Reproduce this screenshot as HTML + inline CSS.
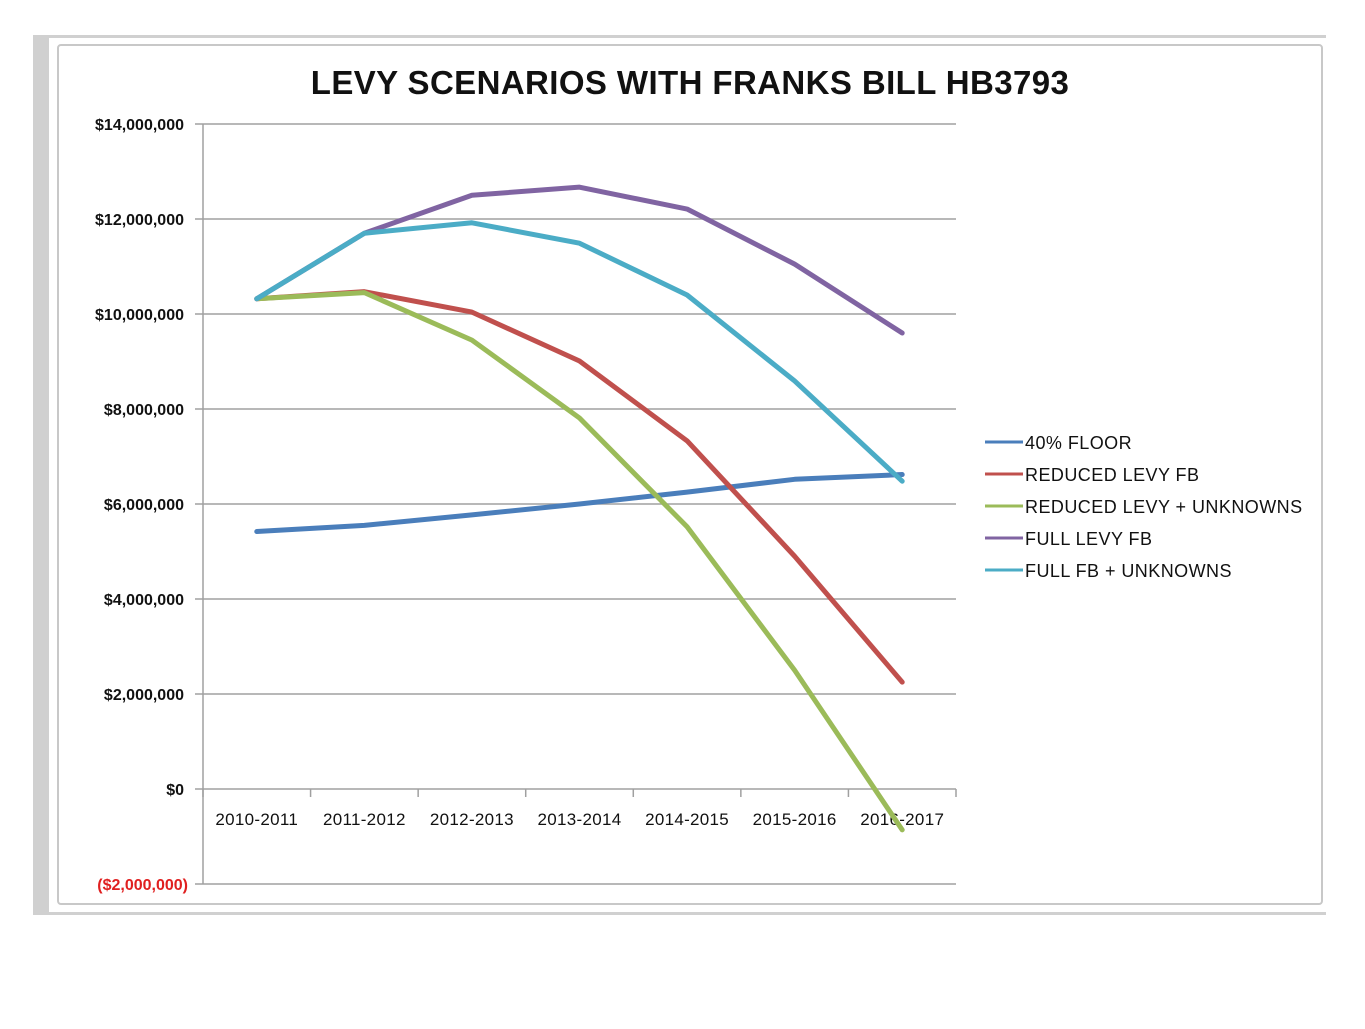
<!DOCTYPE html>
<html><head><meta charset="utf-8"><style>
body{margin:0;width:1365px;height:1024px;background:#fff;overflow:hidden;font-family:"Liberation Sans",Arial,sans-serif}
</style></head><body>
<svg width="1365" height="1024" xmlns="http://www.w3.org/2000/svg">
<rect x="33" y="35" width="16" height="880" fill="#d0d0d0"/>
<rect x="33" y="35" width="1293" height="3" fill="#d0d0d0"/>
<rect x="49" y="912" width="1277" height="3" fill="#d0d0d0"/>
<rect x="58" y="45" width="1264" height="859" rx="3" fill="#fff" stroke="#c8c8c8" stroke-width="2"/>
<text x="690" y="94" text-anchor="middle" font-size="33" font-weight="bold" letter-spacing="0.4" fill="#111">LEVY SCENARIOS WITH FRANKS BILL HB3793</text>
<g id="grid"></g><g id="axes"></g><g id="series"></g><g id="legend"></g>
</svg>
<script>
const categories=["2010-2011","2011-2012","2012-2013","2013-2014","2014-2015","2015-2016","2016-2017"];
const yTicks=[-2,0,2,4,6,8,10,12,14];
const yTickLabels=["($2,000,000)","$0","$2,000,000","$4,000,000","$6,000,000","$8,000,000","$10,000,000","$12,000,000","$14,000,000"];
const seriesNames=["40% FLOOR","REDUCED LEVY FB","REDUCED LEVY + UNKNOWNS","FULL LEVY FB","FULL FB + UNKNOWNS"];
const floor40=[5.42,5.55,5.77,6.0,6.25,6.52,6.62];
const reducedLevy=[10.32,10.47,10.04,9.01,7.33,4.9,2.25];
const reducedUnknowns=[10.32,10.45,9.45,7.81,5.52,2.5,-0.86];
const fullLevy=[10.32,11.7,12.5,12.67,12.21,11.05,9.6];
const fullUnknowns=[10.32,11.7,11.92,11.49,10.4,8.59,6.48];
const seriesData=[floor40,reducedLevy,reducedUnknowns,fullLevy,fullUnknowns];
const colors=["#4a7ebb","#c0504d","#9bbb59","#8064a2","#4bacc6"];
const NS="http://www.w3.org/2000/svg";
const x0=203,x1=956,y0v=789,pxPerM=47.5;
const bw=(x1-x0)/categories.length;
const xs=i=>x0+bw*(i+0.5);
const ys=v=>y0v-v*pxPerM;
function mk(tag,attrs,parent){const e=document.createElementNS(NS,tag);for(const k in attrs)e.setAttribute(k,attrs[k]);document.getElementById(parent).appendChild(e);return e;}
yTicks.forEach((t,i)=>{
  const g=mk("line",{x1:x0-8,x2:x1,y1:ys(t),y2:ys(t),stroke:"#a0a0a0","stroke-width":1.5},"grid");
  
  
  const l=mk("text",{x:t<0?188:184,y:ys(t)+6,"text-anchor":"end","font-size":16,"font-weight":"bold",fill:t<0?"#e02020":"#111"},"axes");
  l.textContent=yTickLabels[i];
  
  
});
const ya=mk("line",{x1:x0,x2:x0,y1:ys(14),y2:ys(-2),stroke:"#a0a0a0","stroke-width":1.5},"axes");


for(let i=0;i<=categories.length;i++){
  const tk=mk("line",{x1:x0+bw*i,x2:x0+bw*i,y1:y0v,y2:y0v+8,stroke:"#a0a0a0","stroke-width":1.5},"axes");
  
  
}
categories.forEach((c,i)=>{
  const t=mk("text",{x:xs(i),y:825,"text-anchor":"middle","font-size":17,"letter-spacing":"0.3",fill:"#111"},"axes");
  t.textContent=c;
  
  
});
seriesData.forEach((d,s)=>{
  const p=mk("polyline",{points:d.map((v,i)=>xs(i)+","+ys(v)).join(" "),fill:"none",stroke:colors[s],"stroke-width":5,"stroke-linejoin":"round","stroke-linecap":"round"},"series");
  
  
  const ly=442+s*32;
  const ll=mk("line",{x1:985,x2:1023,y1:ly,y2:ly,stroke:colors[s],"stroke-width":3},"legend");
  
  
  const lt=mk("text",{x:1025,y:ly+7,"font-size":18,"letter-spacing":"0.45",fill:"#111"},"legend");
  lt.textContent=seriesNames[s];
  
  
});
</script>
</body></html>
